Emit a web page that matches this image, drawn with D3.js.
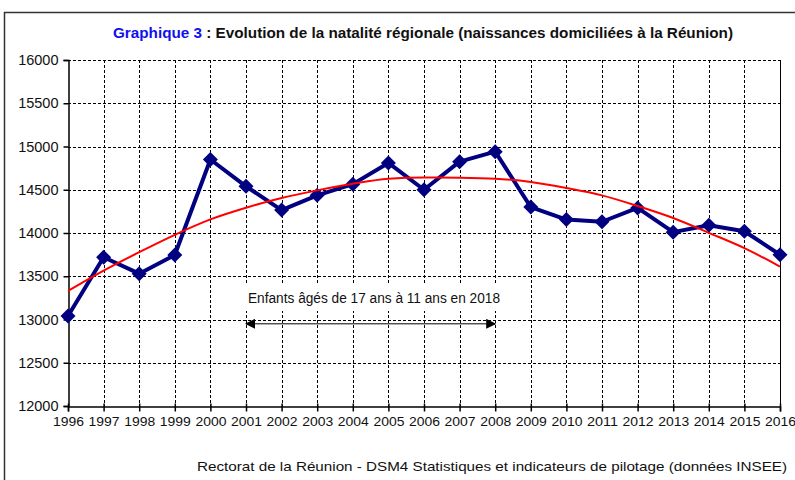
<!DOCTYPE html>
<html><head><meta charset="utf-8">
<script src="https://cdn.jsdelivr.net/npm/d3@7"></script>
<style>body{margin:0;background:#fff}svg{display:block}text{font-family:"Liberation Sans",Arial,sans-serif}</style>
</head><body><svg id="c" width="795" height="480"></svg>
<script>
const years = [1996,1997,1998,1999,2000,2001,2002,2003,2004,2005,2006,2007,2008,2009,2010,2011,2012,2013,2014,2015,2016];
const births = [13040,13720,13530,13745,14850,14540,14265,14435,14565,14810,14500,14825,14940,14300,14155,14130,14290,14010,14090,14020,13750];
const trend = [13330,13565,13778,13979,14157,14292,14404,14493,14570,14628,14643,14640,14628,14590,14520,14435,14312,14173,14002,13825,13612];
const yTicks = [12000,12500,13000,13500,14000,14500,15000,15500,16000];
const titleBlue = "Graphique 3";
const titleRest = " : Evolution de la natalité régionale (naissances domiciliées à la Réunion)";
const annotation = "Enfants âgés de 17 ans à 11 ans en 2018";
const arrowYears = [2001, 2008];
const arrowValue = 12950;
const footer = "Rectorat de la Réunion - DSM4 Statistiques et indicateurs de pilotage (données INSEE)";

const svg = d3.select("#c");
const L = 68, R = 780, T = 60, B = 406;
const x = d3.scaleLinear().domain([1996, 2016]).range([L, R]);
const y = d3.scaleLinear().domain([12000, 16000]).range([B, T]);

// frame
svg.append("rect").attr("x",4.5).attr("y",12.5).attr("width",820).attr("height",500)
  .attr("fill","none").attr("stroke","#333").attr("stroke-width",1.5);

// title
const tt = svg.append("text").attr("x",113).attr("y",38)
  .attr("font-size",15).attr("font-weight","bold")
  .attr("textLength",620).attr("lengthAdjust","spacingAndGlyphs");
tt.append("tspan").attr("fill","#1010ee").text(titleBlue);
tt.append("tspan").attr("fill","#111").text(titleRest);

// grid
const g = svg.append("g");
g.selectAll("line.h").data(yTicks.filter(d=>d>12000)).join("line")
  .attr("x1",L).attr("x2",R).attr("y1",d=>Math.round(y(d))+0.5).attr("y2",d=>Math.round(y(d))+0.5)
  .attr("stroke","#000").attr("stroke-width",1).attr("stroke-dasharray","3,2");
g.selectAll("line.v").data(years.slice(1,-1)).join("line")
  .attr("x1",d=>Math.round(x(d))+0.5).attr("x2",d=>Math.round(x(d))+0.5).attr("y1",T).attr("y2",B)
  .attr("stroke","#000").attr("stroke-width",1).attr("stroke-dasharray","3,2");
// right border
g.append("line").attr("x1",R+0.5).attr("x2",R+0.5).attr("y1",T).attr("y2",B).attr("stroke","#000");

// annotation white box
const ax1 = x(arrowYears[0]), ax2 = x(arrowYears[1]);
svg.append("rect").attr("x",ax1-4).attr("y",285).attr("width",ax2-ax1+10).attr("height",26).attr("fill","#fff");
svg.append("text").attr("x",248).attr("y",303)
  .attr("font-size",14).attr("fill","#111").attr("textLength",252).attr("lengthAdjust","spacingAndGlyphs").text(annotation);

// axes
const yAxis = d3.axisLeft(y).tickValues(yTicks).tickSize(5).tickFormat(d3.format("d"));
const ya = svg.append("g").attr("transform",`translate(${L+0.5},0)`).call(yAxis);
ya.select(".domain").attr("stroke","#000").attr("stroke-width",1.5);
ya.selectAll(".tick line").attr("stroke","#000").attr("stroke-width",1.5);
ya.selectAll(".tick text").attr("font-size",14.5).attr("fill","#111").attr("x",-10).attr("font-family","Liberation Sans, Arial, sans-serif");

const xAxis = d3.axisBottom(x).tickValues(years).tickSize(5).tickFormat(d3.format("d"));
const xa = svg.append("g").attr("transform",`translate(0,${B+0.5})`).call(xAxis);
xa.select(".domain").attr("stroke","#000").attr("stroke-width",1.5);
xa.selectAll(".tick line").attr("stroke","#000").attr("stroke-width",1.5).attr("y1",-3);
xa.selectAll(".tick text").attr("font-size",13.5).attr("fill","#111").attr("y",10)
  .attr("font-family","Liberation Sans, Arial, sans-serif").attr("textLength",31).attr("lengthAdjust","spacingAndGlyphs");

// arrow
const defs = svg.append("defs");
defs.append("marker").attr("id","ah").attr("viewBox","0 0 10 10").attr("refX",9).attr("refY",5)
  .attr("markerWidth",10).attr("markerHeight",10).attr("markerUnits","userSpaceOnUse").attr("orient","auto-start-reverse")
  .append("path").attr("d","M0,0 L10,5 L0,10 Z").attr("fill","#000");
svg.append("line").attr("x1",ax1).attr("x2",ax2).attr("y1",y(arrowValue)).attr("y2",y(arrowValue))
  .attr("stroke","#000").attr("stroke-width",1).attr("marker-start","url(#ah)").attr("marker-end","url(#ah)");

// data line
const data = years.map((yr,i)=>({yr, v:births[i], t:trend[i]}));
svg.append("path").datum(data).attr("fill","none").attr("stroke","#000080").attr("stroke-width",4)
  .attr("stroke-linejoin","round")
  .attr("d",d3.line().x(d=>x(d.yr)).y(d=>y(d.v)));
svg.selectAll("path.mk").data(data).join("path").attr("class","mk")
  .attr("transform",d=>`translate(${x(d.yr)},${y(d.v)})`)
  .attr("d","M0,-7.5 L7.5,0 L0,7.5 L-7.5,0 Z").attr("fill","#000080");

// trend
svg.append("path").datum(data).attr("fill","none").attr("stroke","#ff0000").attr("stroke-width",2)
  .attr("d",d3.line().x(d=>x(d.yr)).y(d=>y(d.t)).curve(d3.curveMonotoneX));

// footer
svg.append("text").attr("x",197).attr("y",471).attr("font-size",13).attr("fill","#111")
  .attr("textLength",590).attr("lengthAdjust","spacingAndGlyphs").text(footer);
</script></body></html>
